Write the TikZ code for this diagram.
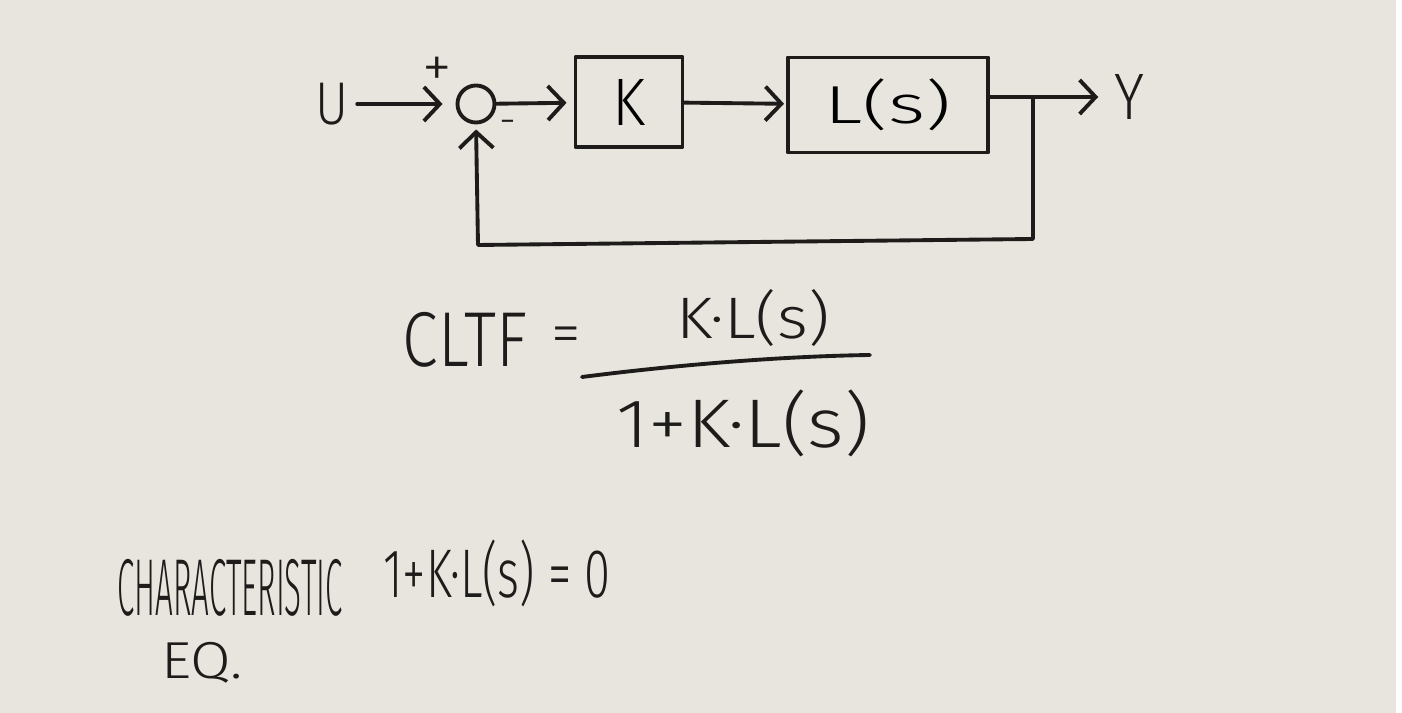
\documentclass[tikz,border=0pt]{standalone}
\usepackage{fontspec}
\usepackage{graphicx}
\IfFontExistsTF{Fira Sans Light}{\setmainfont{Fira Sans Light}}{\setmainfont{Liberation Sans}}
\usetikzlibrary{arrows.meta}
\definecolor{board}{RGB}{232,229,223}
\definecolor{ink}{RGB}{30,28,26}
\tikzset{
  inkline/.style={draw=ink, line width=1.1pt, line cap=round, line join=round},
  blk/.style={inkline, rectangle, inner sep=0pt},
  lbl/.style={inner sep=0pt, text=ink},
  sig/.style={inkline, -{Straight Barb[length=1.6mm,width=3.4mm]}},
}
\begin{document}
\begin{tikzpicture}[x=0.01cm,y=-0.01cm]
\fill[white] (0,0) rectangle (1402,713);
\fill[board] (0,0) rectangle (1396,713);
\useasboundingbox (0,0) rectangle (1402,713);

% block diagram
\node[lbl] (U) at (332,104) {\resizebox*{0.33cm}{0.42cm}{U}};
\node[inkline, circle, minimum size=0.37cm, inner sep=0pt] (sum) at (476,104) {};
\node[lbl] (plus) at (437,72) {\fontsize{17}{17}\selectfont +};
\node[lbl] (minus) at (508,127) {\fontsize{12}{12}\selectfont -};
\node[blk, minimum width=1.07cm, minimum height=0.9cm] (K) at (629,102) {\resizebox*{0.33cm}{0.46cm}{K}};
\node[blk, minimum width=2.0cm, minimum height=0.95cm] (L) at (888,105) {\resizebox*{1.27cm}{0.52cm}{L(s)}};
\node[lbl] (Y) at (1130,97) {\resizebox*{0.30cm}{0.45cm}{Y}};

\draw[sig, shorten <=0.08cm, shorten >=0.13cm] (U) -- (sum);
\draw[sig, shorten >=0.07cm] (sum) -- (K);
\draw[sig, shorten >=0.02cm] (K) -- (L);
\draw[sig, shorten >=0.16cm] (L.east |- Y) -- (Y);
\coordinate (br) at (1033,97);
\coordinate (fr) at (1033,239);
\coordinate (fl) at (478,245);
\draw[sig, shorten >=0.05cm] (br) -- (fr) -- (fl) -- (sum.south);

% closed loop transfer function
\node[lbl] (cltf) at (465,340) {\resizebox*{1.24cm}{0.55cm}{CLTF}};
\node[lbl] (eq) at (566,340) {\fontsize{17}{18}\selectfont =};
\node[lbl] (num) at (753,318) {\resizebox*{1.53cm}{0.57cm}{K·L(s)}};
\draw[inkline] (582,377) .. controls (700,362) and (800,356) .. (870,355);
\node[lbl] (den) at (743,423) {\resizebox*{2.53cm}{0.67cm}{1+K·L(s)}};

% characteristic equation
\node[lbl] (ch) at (230,588) {\resizebox*{2.25cm}{0.57cm}{CHARACTERISTIC}};
\node[lbl] (eqn) at (202,663) {\resizebox*{0.81cm}{0.41cm}{EQ.}};
\node[lbl] (ce) at (497,573) {\resizebox*{2.27cm}{0.67cm}{1+K·L(s) = 0}};
\end{tikzpicture}
\end{document}
